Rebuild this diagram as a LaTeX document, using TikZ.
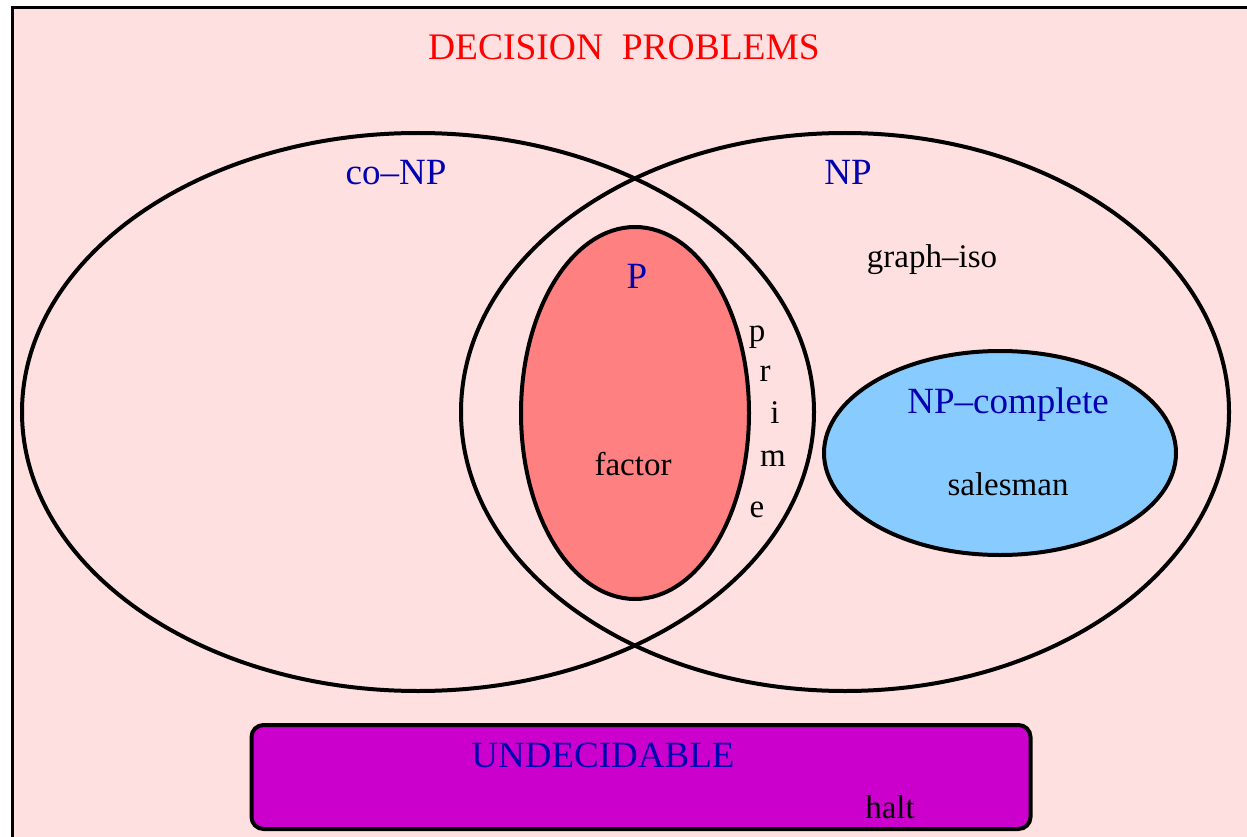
\documentclass[tikz,border=0pt]{standalone}
\usepackage{fontspec}
\setmainfont{Liberation Serif}
\usetikzlibrary{shapes.geometric}
\definecolor{bgpink}{HTML}{FFE0E0}
\definecolor{pfill}{HTML}{FF8080}
\definecolor{npcfill}{HTML}{88CCFF}
\definecolor{undfill}{HTML}{CC00CC}
\definecolor{lblue}{HTML}{0000B0}
\tikzset{
  setell/.style={ellipse, draw=black, line width=4pt, inner sep=0pt},
  bluelbl/.style={anchor=base, text=lblue, font=\fontsize{37}{40}\selectfont, inner sep=0pt},
  blacklbl/.style={anchor=base, text=black, font=\fontsize{33}{36}\selectfont, inner sep=0pt},
  titlelbl/.style={anchor=base, text=red, font=\fontsize{37.5}{40}\selectfont, inner sep=0pt},
}
\begin{document}
\begin{tikzpicture}[x=1pt,y=-1pt]
\useasboundingbox (0,0) rectangle (1247,837);
\fill[white] (0,0) rectangle (1247,837);
\fill[bgpink] (12,8) rectangle (1260,850);
\draw[line width=3pt] (1260,8) -- (12,8) -- (12,850);
% sets
\node[setell, minimum width=792pt, minimum height=558pt] (conp) at (418,412) {};
\node[setell, minimum width=768pt, minimum height=558pt] (np) at (845,412) {};
\node[setell, fill=pfill, minimum width=228pt, minimum height=372pt] (p) at (635,413) {};
\node[setell, fill=npcfill, minimum width=352pt, minimum height=204pt] (npc) at (1000,453) {};
\node[draw=black, line width=4pt, fill=undfill, rounded corners=12pt, minimum width=779pt, minimum height=104pt, inner sep=0pt] (und) at (641,777) {};
% labels
\node[titlelbl] (title) at (624,60) {DECISION\ \ PROBLEMS};
\node[bluelbl] (conplbl) at (396,185) {co–NP};
\node[bluelbl] (nplbl) at (848,185) {NP};
\node[bluelbl] (plbl) at (637,288) {P};
\node[blacklbl] (graphiso) at (932,267) {graph–iso};
\node[bluelbl] (npclbl) at (1008,413) {NP–complete};
\node[blacklbl] (factor) at (633,475) {factor};
\node[blacklbl] (salesman) at (1008,495) {salesman};
\node[bluelbl] (undlbl) at (603,767) {UNDECIDABLE};
\node[blacklbl] (halt) at (890,818) {halt};
% prime, vertical
\node[blacklbl] (pr1) at (757,341) {p};
\node[blacklbl] (pr2) at (765,381) {r};
\node[blacklbl] (pr3) at (775,423) {i};
\node[blacklbl] (pr4) at (773,466) {m};
\node[blacklbl] (pr5) at (757,517) {e};
\end{tikzpicture}
\end{document}
